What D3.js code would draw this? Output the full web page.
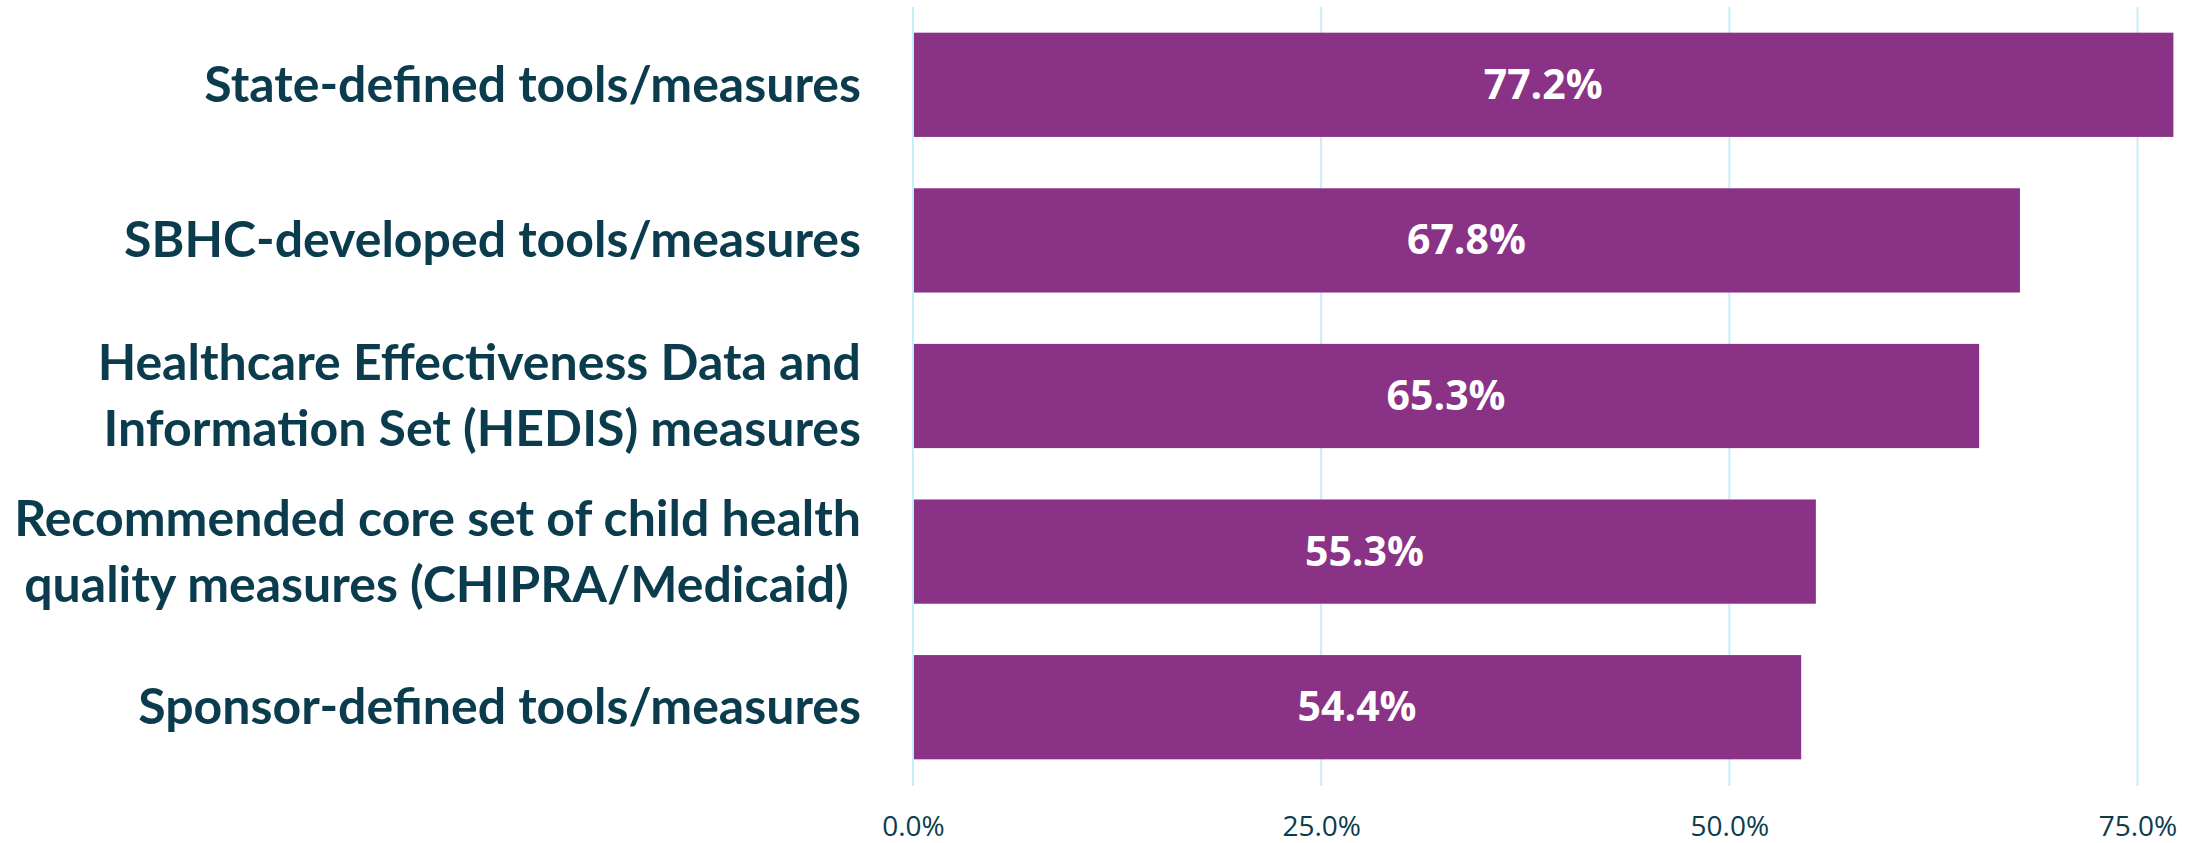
<!DOCTYPE html>
<html>
<head>
<meta charset="utf-8">
<script src="https://cdn.jsdelivr.net/npm/d3@7/dist/d3.min.js"></script>
<style>
  html, body { margin: 0; padding: 0; background: #ffffff; }
  svg { display: block; }
</style>
</head>
<body>
<svg id="chart" width="2195" height="843"></svg>
<script>
// Share of SBHCs using each type of quality tool/measure (percent)
const categories = [
  ["State-defined tools/measures"],
  ["SBHC-developed tools/measures"],
  ["Healthcare Effectiveness Data and", "Information Set (HEDIS) measures"],
  ["Recommended core set of child health", "quality measures (CHIPRA/Medicaid) "],
  ["Sponsor-defined tools/measures"]
];
const values = [77.2, 67.8, 65.3, 55.3, 54.4];
const tickValues = [0, 25, 50, 75];
const tickLabels = ["0.0%", "25.0%", "50.0%", "75.0%"];

const svg = d3.select("#chart");
const keys = categories.map((c, i) => i);

const x = d3.scaleLinear().domain([0, 75]).range([913, 2137.5]);
const y = d3.scaleBand().domain(keys).range([7, 785]).paddingInner(0.33).paddingOuter(0.165);

const ink = "#0b3c4d";
const barColor = "#8a3286";

// vertical gridlines
svg.append("g")
  .selectAll("line")
  .data(tickValues)
  .join("line")
  .attr("x1", d => x(d)).attr("x2", d => x(d))
  .attr("y1", 7).attr("y2", 786)
  .attr("stroke", "#c6eef9")
  .attr("stroke-width", 2);

// bars
svg.append("g")
  .selectAll("rect")
  .data(values)
  .join("rect")
  .attr("x", x(0) + 1)
  .attr("y", (d, i) => y(i))
  .attr("width", d => x(d) - x(0) - 1)
  .attr("height", y.bandwidth())
  .attr("fill", barColor);

// value labels centred in the bars
svg.append("g")
  .selectAll("text")
  .data(values)
  .join("text")
  .attr("x", d => (x(0) + x(d)) / 2)
  .attr("y", (d, i) => y(i) + y.bandwidth() / 2 + 14)
  .attr("text-anchor", "middle")
  .attr("font-family", "'Open Sans', sans-serif")
  .attr("font-weight", 700)
  .attr("font-size", 41)
  .attr("fill", "#ffffff")
  .text(d => d.toFixed(1) + "%");

// category labels (may span two lines)
const lineGap = 66;
const catG = svg.append("g");
categories.forEach((lines, i) => {
  const cy = y(i) + y.bandwidth() / 2;
  const t = catG.append("text")
    .attr("text-anchor", "end")
    .attr("font-family", "Lato, sans-serif")
    .attr("font-weight", 700)
    .attr("font-size", 50)
    .attr("fill", ink)
    .style("white-space", "pre");
  lines.forEach((ln, j) => {
    t.append("tspan")
      .attr("x", 861)
      .attr("y", cy + 17 + (j - (lines.length - 1) / 2) * lineGap)
      .text(ln);
  });
});

// x axis tick labels
const axis = d3.axisBottom(x)
  .tickValues(tickValues)
  .tickFormat((d, i) => tickLabels[i])
  .tickSize(0)
  .tickPadding(0);
const axG = svg.append("g").attr("transform", "translate(0,786)").call(axis);
axG.select(".domain").remove();
axG.selectAll("text")
  .attr("dy", null)
  .attr("y", 50)
  .attr("font-family", "'Open Sans', sans-serif")
  .attr("font-size", 28)
  .attr("fill", ink);
</script>
</body>
</html>
